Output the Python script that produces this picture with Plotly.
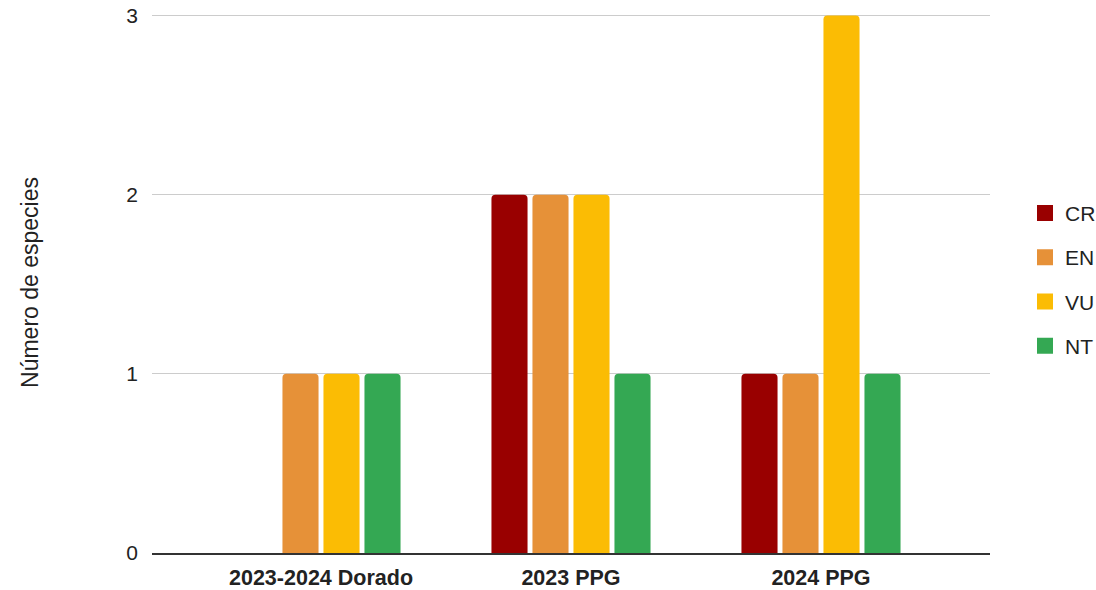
import plotly.graph_objects as go

categories = ["2023-2024 Dorado", "2023 PPG", "2024 PPG"]
series_names = ["CR", "EN", "VU", "NT"]
cr_values = [0, 2, 1]
en_values = [1, 2, 1]
vu_values = [1, 2, 3]
nt_values = [1, 1, 1]
colors = ["#990000", "#e69138", "#fbbc04", "#34a853"]

fig = go.Figure()
for i, (name, vals) in enumerate(zip(series_names, [cr_values, en_values, vu_values, nt_values])):
    fig.add_trace(go.Bar(
        x=categories, y=vals, name=name, marker_color=colors[i],
        marker_line_width=0, showlegend=False,
    ))
# legend entries with larger square swatches
for i, name in enumerate(series_names):
    fig.add_trace(go.Scatter(
        x=[None], y=[None], mode="markers", name=name, legendgroup=name,
        marker=dict(symbol="square", size=16, color=colors[i]),
    ))

font_family = "Liberation Sans, Arial, sans-serif"
fig.update_layout(
    width=1096, height=590,
    margin=dict(l=152, r=106, t=12, b=37, autoexpand=False),
    paper_bgcolor="white", plot_bgcolor="white",
    barmode="group", bargap=0.344, bargroupgap=0.12, barcornerradius=4,
    font=dict(family=font_family, color="#222222", size=21),
    xaxis=dict(
        type="category", range=[-0.676, 2.676], showgrid=False, automargin=False,
        showline=True, linecolor="#333333", linewidth=1.5,
        ticks="", tickfont=dict(size=21.5, color="#222222", family=font_family, weight="bold"),
        ticklabelstandoff=4,
    ),
    yaxis=dict(
        range=[0, 3.02], tickvals=[0, 1, 2, 3], showgrid=True, gridcolor="#cccccc", gridwidth=1,
        zeroline=False, showline=False, ticks="", automargin=False,
        tickfont=dict(size=21, color="#222222"), ticklabelstandoff=13,
        title=dict(text="Número de especies", font=dict(size=23, color="#222222"), standoff=81),
    ),
    legend=dict(
        x=(1101 - 152) / 838, xanchor="right", y=0.505, yanchor="middle",
        font=dict(size=21, color="#222222"), tracegroupgap=14,
        itemsizing="trace", bgcolor="rgba(0,0,0,0)",
    ),
)
fig.write_html("out.html", config={"displayModeBar": False},
               post_script="document.body.style.margin='0';")
